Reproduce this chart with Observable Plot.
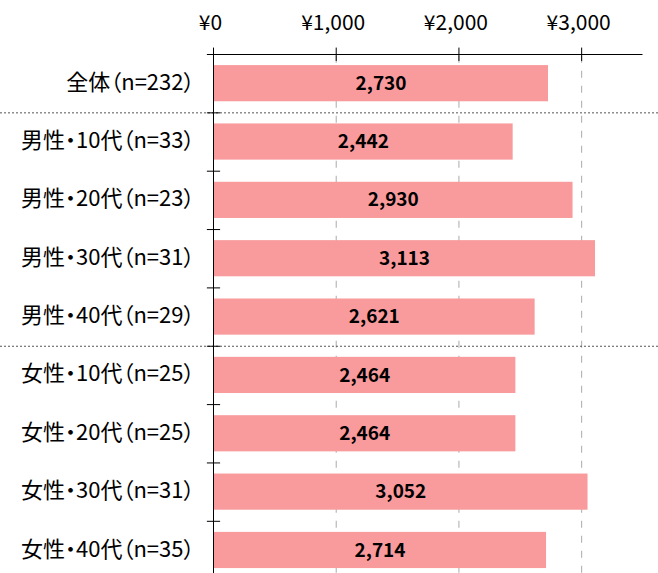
<!DOCTYPE html>
<html>
<head>
<meta charset="utf-8">
<script src="https://cdn.jsdelivr.net/npm/d3@7"></script>
<script src="https://cdn.jsdelivr.net/npm/@observablehq/plot@0.6"></script>
<style>
  html, body { margin: 0; padding: 0; background: #fff; }
  svg { display: block; }
  svg text { font-feature-settings: "palt"; }
</style>
</head>
<body>
<div id="chart"></div>
<script>
const categories = [
  "全体（n=232）",
  "男性・10代（n=33）",
  "男性・20代（n=23）",
  "男性・30代（n=31）",
  "男性・40代（n=29）",
  "女性・10代（n=25）",
  "女性・20代（n=25）",
  "女性・30代（n=31）",
  "女性・40代（n=35）"
];
const values = [2730, 2442, 2930, 3113, 2621, 2464, 2464, 3052, 2714];
const xTicks = [0, 1000, 2000, 3000];
const separators = [1, 5];

const rows = categories.map((c, i) => ({category: c, value: values[i], i}));
const rowBounds = d3.range(0, categories.length);
const font = "'Noto Sans CJK JP', 'Noto Sans', sans-serif";
const yen = d => "¥" + d3.format(",")(d);

const chart = Plot.plot({
  width: 658,
  height: 573,
  marginLeft: 0,
  marginRight: 0,
  marginTop: 0,
  marginBottom: 0,
  style: {fontFamily: font, background: "#fff"},
  x: {domain: [0, 3500], range: [213, 642.5], axis: null},
  y: {domain: [0, categories.length], range: [54, 54 + 58.35 * categories.length], axis: null},
  marks: [
    // dashed gridlines
    Plot.ruleX(xTicks.filter(d => d > 0), {y1: 0.03, y2: categories.length, stroke: "#aaa", strokeWidth: 1, strokeDasharray: "7,8"}),
    // bars
    Plot.rect(rows, {x1: 0, x2: "value", y1: d => d.i + 0.19, y2: d => d.i + 0.81, fill: "#f99b9c"}),
    // dotted separators
    Plot.ruleY(separators, {stroke: "#555", strokeWidth: 1, strokeDasharray: "2,2"}),
    // top axis line
    Plot.ruleY([0], {x1: 0, x2: 3500, stroke: "#000", strokeWidth: 1}),
    // top ticks
    Plot.ruleX(xTicks, {y1: -0.11, y2: 0.12, stroke: "#000", strokeWidth: 1}),
    // left axis line
    Plot.ruleX([0], {y1: -0.02, y2: categories.length, stroke: "#000", strokeWidth: 1}),
    // left ticks
    Plot.ruleY(rowBounds, {x1: -50, x2: 58, stroke: "#000", strokeWidth: 1}),
    // x tick labels
    Plot.text(xTicks, {x: d => d, y: 0, dy: -31, dx: -3, text: yen, fontSize: 21, fill: "#000"}),
    // category labels
    Plot.text(rows, {x: 0, y: d => d.i + 0.5, dy: -1, dx: -19, text: "category", textAnchor: "end", fontSize: 22, fill: "#000"}),
    // value labels
    Plot.text(rows, {x: d => d.value / 2, y: d => d.i + 0.5, text: d => d3.format(",")(d.value), fontSize: 19, fontWeight: "bold", fill: "#000"})
  ]
});
document.getElementById("chart").appendChild(chart);
</script>
</body>
</html>
